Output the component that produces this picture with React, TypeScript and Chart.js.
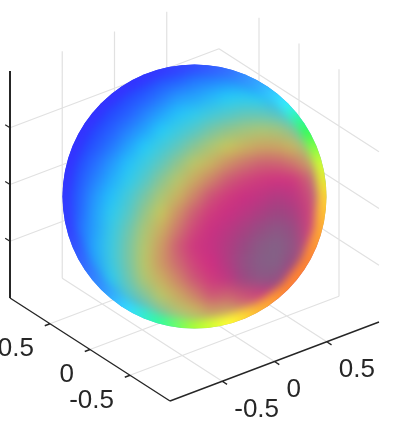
import React, { useEffect, useRef } from "react";
import { Chart, registerables } from "chart.js";

Chart.register(...registerables);

// axis ticks (3D data units)
const xTicks = [-0.5, 0, 0.5];
const yTicks = [-0.5, 0, 0.5];
const zTicks = [-0.5, 0, 0.5];
const xTickLabels = ["-0.5", "0", "0.5"];
const yTickLabels = ["-0.5", "0", "0.5"];

// surface grid: disc coordinates of the cells (1 = sphere outline)
const gridPositions = [-1, -0.875, -0.75, -0.625, -0.5, -0.375, -0.25, -0.125, 0, 0.125, 0.25, 0.375, 0.5, 0.625, 0.75, 0.875, 1];

// colour value of the sphere surface, top to bottom
const surfaceValues = [
  [0, 0, 0, 0, 0.1, 0.3, 0.5, 0.6, 0.9, 1.1, 1.3, 1.5, 1.8, 2, 2.2, 2.3, 2.6],
  [0, 0, 0, 0.1, 0.3, 1.1, 1.6, 1.9, 2.2, 2.3, 2.4, 2.4, 1.9, 2.1, 2.3, 2.5, 2.7],
  [0, 0, 0.1, 0.7, 1.4, 1.8, 2.2, 2.5, 2.6, 2.8, 3, 3.1, 3, 2.7, 2.5, 2.6, 2.9],
  [0, 0.1, 0.6, 1.4, 1.9, 2.3, 2.6, 2.9, 3.2, 3.6, 3.9, 4.2, 4.2, 4, 3.2, 2.8, 3.1],
  [0, 0.1, 1.3, 1.9, 2.3, 2.6, 3, 3.5, 4, 4.6, 5, 5.3, 5.5, 5.4, 4.9, 3, 3.5],
  [0.1, 1, 1.7, 2.2, 2.6, 3, 3.6, 4.2, 4.9, 5.5, 6, 6.4, 6.7, 6.7, 6.3, 5.2, 3.9],
  [0.3, 1.4, 2.1, 2.5, 2.9, 3.5, 4.2, 5, 5.8, 6.4, 7.1, 7.5, 7.8, 7.8, 7.5, 6.7, 4.3],
  [0.4, 1.7, 2.3, 2.7, 3.2, 4, 4.9, 5.7, 6.6, 7.3, 7.9, 8.4, 8.7, 8.9, 8.8, 7.8, 4.8],
  [0.6, 1.9, 2.5, 2.9, 3.7, 4.6, 5.5, 6.4, 7.3, 8.1, 8.7, 9.1, 9.3, 9.6, 9.4, 8.3, 5.4],
  [0.8, 2, 2.6, 3.2, 4, 5.1, 6, 7.1, 7.9, 8.7, 9.1, 9.4, 9.7, 10, 9.8, 8.6, 6],
  [0.9, 2.1, 2.6, 3.4, 4.4, 5.5, 6.5, 7.5, 8.4, 9.1, 9.4, 9.8, 10.2, 10.5, 10.2, 8.5, 6.6],
  [1.1, 2, 2.7, 3.5, 4.6, 5.7, 6.9, 7.9, 8.8, 9.2, 9.6, 10.1, 10.6, 10.8, 10.4, 8.4, 7.3],
  [1.3, 1.5, 2.6, 3.5, 4.6, 5.8, 7, 7.7, 8.5, 9, 9.6, 10.3, 10.7, 10.8, 10.1, 7.6, 8],
  [1.5, 1.7, 2.4, 3.2, 4.4, 5.6, 6.5, 7.3, 8, 8.7, 9.3, 10.1, 10.5, 10.4, 9.4, 7.9, 8.7],
  [1.7, 1.9, 2.1, 2.7, 3.9, 4.8, 5.8, 6.6, 7.3, 8, 7.8, 8.2, 8.6, 9.3, 7.7, 8.5, 9.2],
  [1.9, 2.1, 2.3, 2.5, 2.6, 3.8, 4.8, 5.6, 6.2, 6.8, 6.6, 7, 6.8, 7.6, 8.4, 9.1, 9.6],
  [2, 2.2, 2.4, 2.6, 2.8, 3, 3.5, 3.9, 4.6, 5.2, 5.9, 6.7, 7.4, 8.3, 9, 9.4, 10.7],
];

// colormap of the surface values: index = value
const surfaceColormap = [
  [35, 35, 250], [38, 60, 253], [38, 100, 255], [35, 205, 250],
  [85, 200, 200], [145, 195, 140], [200, 200, 90], [205, 150, 100],
  [205, 85, 118], [208, 45, 130], [155, 70, 130], [125, 105, 135],
];

// bright outline of the sphere: hue read every 15 degrees, clockwise from the right
const rimAngles = [0, 15, 30, 45, 60, 75, 90, 105, 120, 135, 150, 165, 180, 195, 210, 225, 240, 255, 270, 285, 300, 315, 330, 345];
const rimHues = [47, 35, 24, 24, 38, 60, 85, 150, 190, 212, 225, 236, 238, 240, 240, 240, 240, 238, 232, 222, 205, 185, 130, 75];

// projection of the box on the page (the x and y scales run 1:1 with the canvas)
const ORIGIN = [194.5, 196.5];
const EX = [104.5, -39.5];
const EY = [-80, -51.5];
const EZ = [0, -113.5];
const SPHERE_R = 132;

const project = (x: number, y: number, z: number) => ({
  x: ORIGIN[0] + x * EX[0] + y * EY[0] + z * EZ[0],
  y: ORIGIN[1] + x * EX[1] + y * EY[1] + z * EZ[1],
});
const GAP = { x: NaN, y: NaN };
const segs = (list: number[][][]) =>
  list.flatMap(([a, b]) => [project(a[0], a[1], a[2]), project(b[0], b[1], b[2]), GAP]);

const GRID = "#e1e1e1";
const AXIS = "#262626";

const gridLines = segs([
  ...zTicks.map((z) => [[-1, 1, z], [1, 1, z]]),
  ...zTicks.map((z) => [[1, 1, z], [1, -1, z]]),
  ...xTicks.map((x) => [[x, 1, -1], [x, 1, 1]]),
  ...yTicks.map((y) => [[1, y, -1], [1, y, 1]]),
  ...xTicks.map((x) => [[x, -1, -1], [x, 1, -1]]),
  ...yTicks.map((y) => [[-1, y, -1], [1, y, -1]]),
]);
const floorAxes = segs([
  [[-1, 1, -1], [-1, -1, -1]],
  [[-1, -1, -1], [1, -1, -1]],
  ...yTicks.map((y) => [[-1, y, -1], [-1.05, y, -1]]),
  ...xTicks.map((x) => [[x, -1, -1], [x, -1.06, -1]]),
]);
const zAxis = segs([[[-1, 1, -1], [-1, 1, 1]]]);
const zTickMarks = segs(zTicks.map((z) => [[-1, 1, z], [-1, 1.06, z]]));

const colourOf = (v: number) => {
  const i = Math.min(Math.floor(v), surfaceColormap.length - 2);
  const t = v - i;
  const a = surfaceColormap[i];
  const b = surfaceColormap[i + 1];
  return `rgb(${a.map((c, k) => Math.round(c + (b[k] - c) * t)).join(",")})`;
};

const surfacePoints = surfaceValues.flatMap((row, j) =>
  row.map((v, i) => ({
    x: ORIGIN[0] + gridPositions[i] * SPHERE_R,
    y: ORIGIN[1] + gridPositions[j] * SPHERE_R,
    v,
  }))
);
const rimPoints = [...rimAngles, rimAngles[0]].map((deg) => ({
  x: ORIGIN[0] + SPHERE_R * Math.cos((deg * Math.PI) / 180),
  y: ORIGIN[1] + SPHERE_R * Math.sin((deg * Math.PI) / 180),
}));

const snap = (c: HTMLCanvasElement) => {
  const o = document.createElement("canvas");
  o.width = c.width;
  o.height = c.height;
  o.getContext("2d")!.drawImage(c, 0, 0);
  return o;
};

// blurs what a dataset drew and keeps it inside the sphere outline
const softSurface = {
  id: "softSurface",
  beforeDatasetDraw(chart: any, args: any) {
    if (chart.data.datasets[args.index].blurSigma) chart.$clean = snap(chart.canvas);
  },
  afterDatasetDraw(chart: any, args: any) {
    const sigma = chart.data.datasets[args.index].blurSigma;
    if (!sigma) return;
    const drawn = snap(chart.canvas);
    const { ctx, scales } = chart;
    const cx = scales.x.getPixelForValue(ORIGIN[0]);
    const cy = scales.y.getPixelForValue(ORIGIN[1]);
    ctx.save();
    ctx.setTransform(1, 0, 0, 1, 0, 0);
    ctx.clearRect(0, 0, chart.canvas.width, chart.canvas.height);
    ctx.drawImage(chart.$clean, 0, 0);
    ctx.beginPath();
    ctx.arc(cx, cy, SPHERE_R, 0, Math.PI * 2);
    ctx.clip();
    ctx.filter = `blur(${sigma}px)`;
    ctx.drawImage(drawn, 0, 0);
    ctx.restore();
  },
};

const tickText = {
  id: "tickText",
  afterDraw(chart: any) {
    const { ctx, scales } = chart;
    ctx.save();
    ctx.font = '26px "Liberation Sans"';
    ctx.fillStyle = AXIS;
    ctx.textBaseline = "middle";
    yTicks.forEach((y, i) => {
      const p = project(-1, y, -1);
      ctx.textAlign = "right";
      ctx.fillText(yTickLabels[i], scales.x.getPixelForValue(p.x - 16), scales.y.getPixelForValue(p.y + 25.5));
    });
    xTicks.forEach((x, i) => {
      const p = project(x, -1, -1);
      ctx.textAlign = "left";
      ctx.fillText(xTickLabels[i], scales.x.getPixelForValue(p.x + 12), scales.y.getPixelForValue(p.y + 28.5));
    });
    ctx.restore();
  },
};

const lineSet = (data: any[], color: string, width: number, order: number) => ({
  data,
  showLine: true,
  borderColor: color,
  borderWidth: width,
  pointRadius: 0,
  spanGaps: false,
  order,
});

export default function App() {
  const ref = useRef<HTMLCanvasElement>(null);
  useEffect(() => {
    const chart = new Chart(ref.current!, {
      type: "scatter",
      data: {
        datasets: [
          lineSet(gridLines, GRID, 1.2, 10),
          {
            data: surfacePoints,
            pointStyle: "rect",
            pointRadius: 12,
            pointBorderWidth: 0,
            pointBackgroundColor: (c: any) => colourOf(c.raw.v),
            showLine: false,
            order: 5,
            blurSigma: 6,
          },
          {
            data: rimPoints,
            showLine: true,
            pointRadius: 0,
            borderWidth: 16,
            borderColor: (c: any) => {
              const g = c.chart.ctx.createConicGradient(0, ORIGIN[0], ORIGIN[1]);
              rimHues.forEach((h, i) => g.addColorStop(rimAngles[i] / 360, `hsl(${h},100%,60%)`));
              g.addColorStop(1, `hsl(${rimHues[0]},100%,60%)`);
              return g;
            },
            order: 4,
            blurSigma: 4,
          },
          lineSet(floorAxes, AXIS, 1.4, 2),
          lineSet(zAxis, AXIS, 2, 1),
          lineSet(zTickMarks, AXIS, 1.2, 1),
        ] as any,
      },
      options: {
        responsive: false,
        animation: false,
        devicePixelRatio: 1,
        layout: { padding: 0, autoPadding: false },
        events: [],
        plugins: { legend: { display: false }, tooltip: { enabled: false }, title: { display: false } },
        scales: {
          x: { type: "linear", min: 0, max: 402, display: false },
          y: { type: "linear", min: 0, max: 423, reverse: true, display: false },
        },
      } as any,
      plugins: [softSurface, tickText],
    });
    return () => chart.destroy();
  }, []);
  return (
    <div style={{ position: "absolute", left: 0, top: 0, width: 402, height: 423, background: "#fff" }}>
      <canvas ref={ref} width={402} height={423} style={{ display: "block" }} />
    </div>
  );
}
